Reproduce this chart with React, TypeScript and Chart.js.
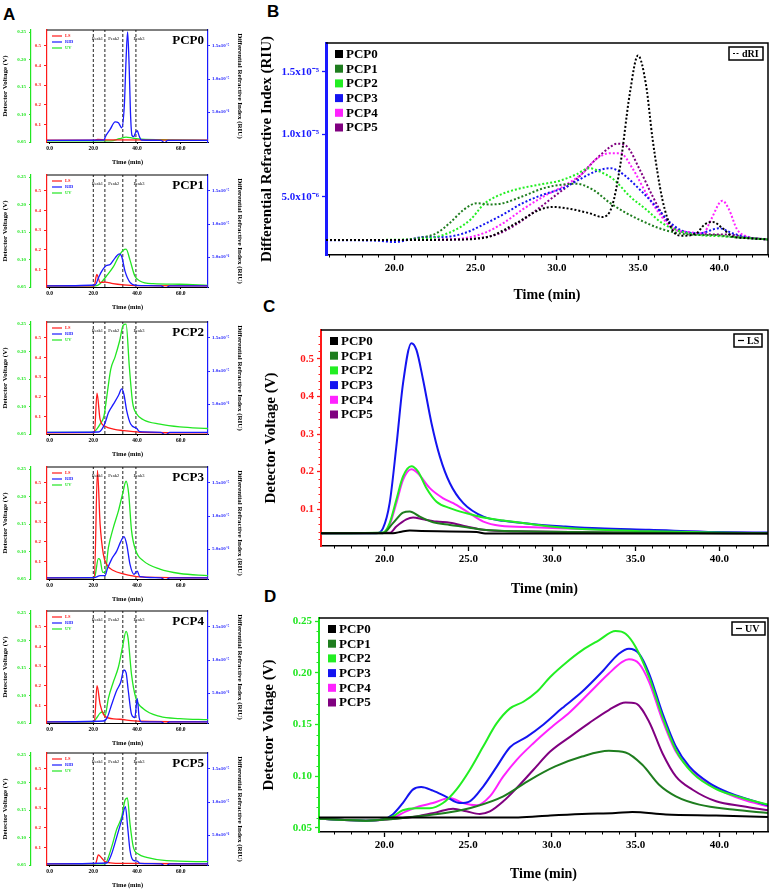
import React, { useEffect, useRef } from 'react';
import { Chart, registerables } from 'chart.js';
Chart.register(...registerables);

type Pt = [number, number];

const SERIF = '"Liberation Serif", "Times New Roman", serif';
const SANS = '"Liberation Sans", Arial, sans-serif';

const SAMPLES = ['PCP0', 'PCP1', 'PCP2', 'PCP3', 'PCP4', 'PCP5'];
const SAMPLE_COLORS = ['#000000', '#1e7d1e', '#22ee22', '#1414f0', '#ff22ff', '#800080'];
const RED = '#ff1a1a';
const BLUE = '#1a1aff';
const GREEN = '#22e622';

// ---------- Panel B : dRI (in 10^-6 RIU) ----------
const dri_PCP0: Pt[] = [[15.8,1.55],[20,1.55],[24,1.6],[25,1.65],[25.9,1.85],[27.5,2.9],[29,4.0],[29.8,4.2],[30.8,4.05],[32,3.7],[32.8,3.4],[33.4,4.25],[33.9,7.45],[34.5,13.3],[35,16.3],[35.5,13.9],[35.9,9.6],[36.5,4.8],[37.1,2.4],[37.7,1.9],[38.6,2.1],[39.1,2.8],[39.6,3.0],[40.2,2.5],[40.8,1.85],[41.8,1.7],[43,1.6]];
const dri_PCP1: Pt[] = [[15.8,1.55],[20,1.55],[21.4,1.7],[22.6,2.1],[23.4,2.9],[24.3,4.0],[25.1,4.5],[25.9,4.4],[26.7,4.5],[27.9,5.05],[29.2,5.7],[30.4,6.0],[31.2,6.05],[32.2,5.6],[33.3,4.5],[34.3,3.7],[35.3,3.05],[36.3,2.5],[37.5,2.1],[38.8,1.95],[39.8,1.95],[40.8,1.8],[43,1.6]];
const dri_PCP2: Pt[] = [[15.8,1.55],[21,1.6],[22.6,1.8],[23.8,2.4],[24.7,3.2],[25.5,4.4],[26.3,5.05],[27.5,5.6],[29,6.0],[30.2,6.3],[31.2,6.8],[32,7.3],[32.6,7.05],[33.5,6.4],[34.5,5.05],[35.5,4.0],[36.5,2.9],[37.5,2.3],[38.8,1.95],[40.2,1.85],[43,1.6]];
const dri_PCP3: Pt[] = [[15.8,1.55],[19,1.5],[20,1.4],[21,1.6],[21.8,1.8],[23,1.8],[24.3,2.1],[25.5,2.8],[26.7,3.6],[27.9,4.5],[29.2,5.2],[30.4,5.7],[31.4,6.4],[32.4,7.05],[33.3,7.3],[34.1,6.8],[35.1,5.6],[36.1,4.25],[36.9,3.05],[37.7,2.3],[38.8,2.1],[40.0,2.5],[40.8,2.1],[41.8,1.75],[43,1.6]];
const dri_PCP4: Pt[] = [[15.8,1.55],[23,1.6],[24.3,1.7],[25.5,2.1],[26.7,2.9],[27.9,4.0],[29.2,5.05],[30.4,5.85],[31.6,6.9],[32.4,8.0],[33.3,8.5],[33.9,8.5],[34.7,7.2],[35.5,5.3],[36.3,3.7],[37.1,2.5],[38.1,2.2],[39.0,2.1],[39.5,3.2],[40.0,4.5],[40.2,4.7],[40.6,4.0],[41.1,2.4],[41.8,1.8],[43,1.6]];
const dri_PCP5: Pt[] = [[15.8,1.55],[24,1.6],[25.1,1.7],[26.3,2.0],[27.5,2.8],[28.8,4.0],[30,5.2],[31.2,6.4],[32.4,8.0],[33.3,9.0],[33.7,9.25],[34.3,9.05],[35.1,7.2],[35.9,5.05],[36.7,3.2],[37.5,2.3],[38.8,2.05],[39.8,2.0],[40.6,2.0],[41.5,1.8],[43,1.6]];

// ---------- Panel C : LS detector voltage (V) ----------
const ls_PCP0: Pt[] = [[16.2,0.036],[20.5,0.036],[21,0.04],[21.5,0.043],[22.2,0.042],[25.5,0.039],[26,0.035],[43,0.035]];
const ls_PCP1: Pt[] = [[16.2,0.036],[19.9,0.036],[20.5,0.063],[21.1,0.091],[21.5,0.094],[22.1,0.08],[22.9,0.065],[23.9,0.058],[24.9,0.052],[25.9,0.045],[27.9,0.041],[43,0.036]];
const ls_PCP2: Pt[] = [[16.2,0.036],[19.9,0.038],[20.3,0.063],[20.7,0.125],[21.1,0.187],[21.6,0.214],[22,0.2],[22.5,0.156],[23.1,0.12],[23.9,0.103],[24.9,0.089],[25.9,0.078],[27.9,0.065],[29.9,0.054],[31.8,0.047],[35.8,0.041],[43,0.036]];
const ls_PCP3: Pt[] = [[16.2,0.036],[19.5,0.036],[19.9,0.049],[20.3,0.116],[20.7,0.267],[21.1,0.435],[21.6,0.542],[21.9,0.524],[22.3,0.444],[22.8,0.329],[23.3,0.24],[23.9,0.169],[24.7,0.116],[25.9,0.08],[27.1,0.069],[28.9,0.06],[30.8,0.054],[32.8,0.049],[35.8,0.045],[39.8,0.039],[43,0.038]];
const ls_PCP4: Pt[] = [[16.2,0.036],[19.9,0.037],[20.3,0.058],[20.7,0.116],[21.1,0.178],[21.6,0.206],[22,0.195],[22.7,0.156],[23.5,0.129],[24.1,0.116],[24.9,0.094],[25.9,0.067],[26.9,0.056],[28.9,0.052],[31.8,0.047],[43,0.036]];
const ls_PCP5: Pt[] = [[16.2,0.036],[20.3,0.037],[20.7,0.054],[21.3,0.073],[21.7,0.078],[22.3,0.073],[23.1,0.067],[23.9,0.064],[24.9,0.054],[25.9,0.045],[27.9,0.041],[43,0.036]];

// ---------- Panel D : UV detector voltage (V) ----------
const uv_PCP0: Pt[] = [[16.1,0.06],[28,0.06],[29.9,0.062],[31.8,0.0635],[33.8,0.0644],[34.8,0.0654],[36.8,0.063],[39.8,0.062],[42.9,0.0606]];
const uv_PCP1: Pt[] = [[16.1,0.0587],[18.9,0.057],[20.5,0.0585],[21.9,0.061],[23.9,0.065],[25.5,0.0709],[27.1,0.0805],[28.7,0.0965],[30.2,0.1094],[31.8,0.119],[33.4,0.1245],[34.4,0.1229],[35.4,0.111],[36.4,0.0917],[37.4,0.0805],[38.8,0.0725],[40.8,0.0677],[42.9,0.0644]];
const uv_PCP2: Pt[] = [[16.1,0.0587],[18.9,0.057],[19.9,0.058],[20.5,0.061],[21.1,0.067],[21.9,0.069],[22.7,0.069],[23.5,0.074],[24.3,0.087],[25.1,0.106],[25.9,0.1287],[26.7,0.151],[27.5,0.1656],[28.3,0.172],[29.1,0.1816],[29.9,0.196],[30.9,0.2105],[31.8,0.2217],[32.8,0.2314],[33.8,0.2404],[34.4,0.2378],[35,0.225],[35.8,0.196],[36.6,0.1575],[37.4,0.1254],[38.4,0.103],[39.8,0.0876],[41.4,0.0789],[42.9,0.0725]];
const uv_PCP3: Pt[] = [[16.1,0.0587],[18.9,0.057],[19.9,0.058],[20.5,0.063],[21.1,0.074],[21.7,0.087],[22.2,0.0895],[22.9,0.086],[23.7,0.08],[24.5,0.074],[25.1,0.0757],[25.9,0.09],[26.7,0.109],[27.5,0.128],[28.5,0.138],[29.5,0.15],[30.6,0.1656],[31.8,0.1816],[33.0,0.201],[34.0,0.2185],[34.6,0.2233],[35.2,0.2185],[35.8,0.1993],[36.6,0.161],[37.4,0.1287],[38.2,0.1094],[39.4,0.0933],[40.6,0.0837],[41.8,0.0773],[42.9,0.0718]];
const uv_PCP4: Pt[] = [[16.1,0.0587],[18.9,0.057],[20.5,0.0596],[21.3,0.066],[22.1,0.0709],[22.9,0.074],[23.9,0.0789],[24.7,0.074],[25.5,0.0718],[26.3,0.0805],[27.1,0.0998],[27.9,0.1158],[28.9,0.1319],[29.9,0.1463],[31.1,0.1624],[32.2,0.18],[33.4,0.1993],[34.2,0.2105],[34.6,0.213],[35.2,0.2089],[35.8,0.1913],[36.6,0.1543],[37.4,0.1238],[38.4,0.1046],[39.8,0.0885],[41.4,0.0773],[42.9,0.0709]];
const uv_PCP5: Pt[] = [[16.1,0.0587],[18.9,0.057],[20.5,0.0587],[21.9,0.061],[23.1,0.065],[24.1,0.0686],[24.9,0.066],[25.7,0.0635],[26.3,0.066],[27.1,0.0757],[27.9,0.0885],[28.9,0.1062],[29.9,0.1238],[31.1,0.1383],[32.2,0.1511],[33.4,0.164],[34.4,0.1713],[35,0.1704],[35.8,0.1527],[36.6,0.1222],[37.4,0.0998],[38.4,0.0869],[39.8,0.0757],[41.4,0.0709],[42.9,0.067]];

// ---------- Panel A : per-sample triple detector traces (0-72 min) ----------
const a_ls_PCP0: Pt[] = [[-1.2,0.02],[20,0.02],[22,0.024],[26,0.022],[72.5,0.02]];
const a_rid_PCP0: Pt[] = [[-1.2,0.75],[25,0.8],[25.4,1.2],[27.7,2.4],[30,3.55],[31.5,3.4],[33,2.65],[34.2,6],[35,13],[35.7,17.1],[36.4,12],[37,5],[37.7,1.5],[38.5,1.3],[39.3,1.9],[40.1,2.2],[41,1.4],[42,0.8],[51,0.75],[52.7,0.35],[54,0.75],[72.5,0.75]];
const a_uv_PCP0: Pt[] = [[-1.2,0.052],[28,0.052],[32,0.056],[35,0.059],[38,0.057],[42,0.055],[55,0.054],[72.5,0.053]];

const a_ls_PCP1: Pt[] = [[-1.2,0.017],[20.4,0.017],[21.6,0.075],[23.1,0.034],[25.4,0.036],[29,0.028],[33.7,0.022],[40,0.018],[72.5,0.017]];
const a_rid_PCP1: Pt[] = [[-1.2,0.67],[20.8,0.8],[22.5,2.0],[23.9,2.9],[25.8,3.7],[27.7,3.9],[30,4.9],[31.9,5.5],[33,5.1],[34.5,2.9],[36.8,1.2],[39.8,0.75],[51,0.67],[53,0.3],[55,0.67],[72.5,0.67]];
const a_uv_PCP1: Pt[] = [[-1.2,0.052],[21,0.052],[23.1,0.056],[26,0.07],[29.2,0.087],[31.5,0.105],[33.7,0.117],[35,0.119],[36.8,0.099],[39,0.07],[41.3,0.061],[47.4,0.056],[59.6,0.055],[72.5,0.053]];

const a_ls_PCP2: Pt[] = [[-1.2,0.017],[20.5,0.018],[21.7,0.218],[23.1,0.085],[25.4,0.05],[29.2,0.036],[33.7,0.028],[41.3,0.02],[72.5,0.017]];
const a_rid_PCP2: Pt[] = [[-1.2,0.75],[22.5,0.8],[23.9,1.2],[25.4,2.2],[26.9,3.7],[29.2,5.0],[31.5,6.3],[33,7.3],[34,6.5],[35.3,4.0],[37.1,2.0],[39.8,1.35],[41.3,0.85],[51,0.75],[53,0.35],[55,0.75],[72.5,0.75]];
const a_uv_PCP2: Pt[] = [[-1.2,0.053],[20,0.053],[21.6,0.059],[23.1,0.068],[24.9,0.083],[26.4,0.125],[28,0.168],[30,0.191],[32,0.219],[33.7,0.248],[35,0.25],[36.5,0.172],[38,0.107],[39.8,0.087],[42.9,0.076],[50.5,0.068],[59.6,0.063],[72.5,0.06]];

const a_ls_PCP3: Pt[] = [[-1.2,0.017],[20.5,0.018],[21.9,0.562],[23.1,0.29],[24.6,0.136],[26.1,0.085],[29.2,0.054],[33.7,0.037],[41.3,0.022],[72.5,0.017]];
const a_rid_PCP3: Pt[] = [[-1.2,0.67],[20.5,0.7],[23.1,1.0],[25.4,1.0],[26.4,2.0],[28.4,3.5],[30.7,4.7],[32.5,6.1],[34,6.9],[35.3,5.7],[36.8,2.7],[38.6,1.2],[40.1,1.7],[41.3,0.85],[51,0.67],[53,0.3],[55,0.67],[72.5,0.67]];
const a_uv_PCP3: Pt[] = [[-1.2,0.052],[20,0.052],[20.8,0.056],[22.3,0.087],[23.1,0.085],[24.3,0.062],[25.4,0.062],[26.9,0.107],[29.2,0.144],[31.5,0.174],[33.4,0.205],[35,0.228],[36.2,0.205],[37.5,0.138],[39.5,0.101],[42.9,0.083],[50.5,0.068],[59.6,0.06],[72.5,0.056]];

const a_ls_PCP4: Pt[] = [[-1.2,0.017],[20.5,0.018],[21.7,0.2],[23.1,0.107],[24.6,0.056],[26.1,0.04],[32.2,0.03],[41.3,0.02],[72.5,0.017]];
const a_rid_PCP4: Pt[] = [[-1.2,0.67],[24.6,0.8],[26.4,1.35],[28.4,3.3],[30.7,5.4],[32.5,6.6],[34,8.5],[35,8.1],[36,5.4],[37.5,1.8],[39,1.3],[40.1,4.2],[41,1.3],[42.1,0.67],[51,0.67],[53,0.3],[55,0.67],[72.5,0.67]];
const a_uv_PCP4: Pt[] = [[-1.2,0.052],[20,0.052],[21.3,0.058],[23.1,0.068],[24.2,0.07],[25.4,0.064],[26.9,0.095],[29.2,0.125],[31.5,0.152],[33.4,0.189],[35,0.217],[35.9,0.205],[37.5,0.138],[39.5,0.095],[42.9,0.076],[50.5,0.062],[59.6,0.058],[72.5,0.056]];

const a_ls_PCP5: Pt[] = [[-1.2,0.017],[21,0.018],[22.3,0.062],[23.9,0.045],[25.4,0.028],[27.7,0.022],[35,0.019],[72.5,0.017]];
const a_rid_PCP5: Pt[] = [[-1.2,0.67],[26.1,0.8],[28.4,2.2],[30.7,4.7],[33,7.3],[34.7,9.3],[35.7,6.3],[36.8,2.7],[38.3,1.2],[40.1,1.1],[41.3,0.75],[51,0.67],[53,0.3],[55,0.67],[72.5,0.67]];
const a_uv_PCP5: Pt[] = [[-1.2,0.052],[25,0.052],[26.1,0.056],[28.4,0.083],[30.7,0.115],[33,0.138],[34.5,0.168],[35.6,0.172],[36.8,0.125],[38.3,0.083],[40.6,0.07],[44.4,0.064],[53.5,0.058],[72.5,0.056]];

const A_LS = [a_ls_PCP0, a_ls_PCP1, a_ls_PCP2, a_ls_PCP3, a_ls_PCP4, a_ls_PCP5];
const A_RID = [a_rid_PCP0, a_rid_PCP1, a_rid_PCP2, a_rid_PCP3, a_rid_PCP4, a_rid_PCP5];
const A_UV = [a_uv_PCP0, a_uv_PCP1, a_uv_PCP2, a_uv_PCP3, a_uv_PCP4, a_uv_PCP5];

const PEAK_BOUNDS = [20.0, 25.3, 33.5, 39.5];
const PEAK_LABELS: [string, number][] = [['Peak1', 21.9], ['Peak2', 29.4], ['Peak3', 40.9]];
const A_LS_RANGE = [0.011, 0.579];
const A_UV_RANGE = [0.05, 0.254];
const A_RID_RANGE = [0.5, 17.4];
const A_X_RANGE = [-1.2, 72.5];

// ---------- helpers ----------
const toXY = (a: Pt[]) => a.map(([x, y]) => ({ x, y }));
const near = (v: number, step: number) => Math.abs(v / step - Math.round(v / step)) < 1e-6;
const driLabel = (v: number) => (v < 9.99 ? `${v.toFixed(1)}x10⁻⁶` : `${(v / 10).toFixed(1)}x10⁻⁵`);
const bold = (size: number, family = SERIF) => ({ family, size, weight: 'bold' as const });

function ChartCanvas({ left, top, width, height, make }: any) {
  const ref = useRef<HTMLCanvasElement>(null);
  useEffect(() => {
    const chart = new Chart(ref.current as HTMLCanvasElement, make());
    return () => chart.destroy();
  }, []);
  return (
    <canvas
      ref={ref}
      width={width}
      height={height}
      style={{ position: 'absolute', left, top, width, height }}
    />
  );
}

// ---------- big panels (B, C, D) ----------
function bigConfig(p: any) {
  const framePlugin = {
    id: 'frame' + p.tag,
    afterDraw(chart: any) {
      const { ctx, chartArea: a, scales } = chart;
      ctx.save();
      // minor ticks (x every 1 min, y every p.yMinor)
      ctx.lineWidth = 1;
      ctx.strokeStyle = '#000';
      ctx.beginPath();
      for (let t = Math.ceil(p.xMin); t <= p.xMax; t += 1) {
        if (t % 5 === 0) continue;
        const x = Math.round(scales.x.getPixelForValue(t)) + 0.5;
        ctx.moveTo(x, a.bottom);
        ctx.lineTo(x, a.bottom + 2.5);
      }
      ctx.stroke();
      if (p.yMinor) {
        ctx.strokeStyle = p.yColor;
        ctx.beginPath();
        const n0 = Math.ceil(p.yMin / p.yMinor - 1e-6);
        for (let k = n0; k * p.yMinor <= p.yMax; k++) {
          const v = k * p.yMinor;
          if (near(v, p.yStep)) continue;
          const y = Math.round(scales.y.getPixelForValue(v)) + 0.5;
          ctx.moveTo(a.left, y);
          ctx.lineTo(a.left - 2.5, y);
        }
        ctx.stroke();
      }
      // top and right frame
      ctx.strokeStyle = '#000';
      ctx.lineWidth = 1.5;
      ctx.beginPath();
      ctx.moveTo(a.left, a.top);
      ctx.lineTo(a.right, a.top);
      ctx.lineTo(a.right, a.bottom);
      ctx.stroke();
      // legend
      ctx.font = `bold 13px ${SERIF}`;
      ctx.textBaseline = 'middle';
      ctx.textAlign = 'left';
      SAMPLES.forEach((n, i) => {
        const y = a.top + 11 + i * 14.7;
        ctx.fillStyle = SAMPLE_COLORS[i];
        ctx.fillRect(a.left + 9, y - 4, 8, 8);
        ctx.fillStyle = '#000';
        ctx.fillText(n, a.left + 20, y + 0.5);
      });
      // tag box
      const bw = p.tagW;
      const bx = a.right - p.tagRight - bw;
      const by = a.top + 4;
      ctx.lineWidth = 1.5;
      ctx.strokeRect(bx, by, bw, 13);
      ctx.lineWidth = 1.2;
      if (p.dash) ctx.setLineDash([2, 1.5]);
      ctx.beginPath();
      ctx.moveTo(bx + 4, by + 6.5);
      ctx.lineTo(bx + 10, by + 6.5);
      ctx.stroke();
      ctx.setLineDash([]);
      ctx.font = `bold 10px ${SERIF}`;
      ctx.fillStyle = '#000';
      ctx.fillText(p.tag, bx + 13, by + 7);
      ctx.restore();
    },
  };
  return {
    type: 'line',
    data: {
      datasets: p.series.map((s: Pt[], i: number) => ({
        label: SAMPLES[i],
        data: toXY(s),
        borderColor: SAMPLE_COLORS[i],
        borderWidth: p.lineWidth,
        borderDash: p.dash ? [2, 2] : [],
        pointRadius: 0,
        cubicInterpolationMode: 'monotone',
        fill: false,
      })),
    },
    options: {
      animation: false,
      responsive: false,
      events: [],
      layout: { padding: { left: p.padL, top: p.padT, right: p.padR, bottom: 0 } },
      plugins: { legend: { display: false }, tooltip: { enabled: false } },
      scales: {
        x: {
          type: 'linear',
          min: p.xMin,
          max: p.xMax,
          afterFit: (s: any) => { s.height = p.xH; },
          ticks: {
            stepSize: 5,
            autoSkip: false,
            includeBounds: false,
            maxRotation: 0,
            padding: 2,
            color: '#000',
            font: bold(11),
            callback: (v: any) => Number(v).toFixed(1),
          },
          grid: { drawOnChartArea: false, tickLength: 5, color: '#000', tickWidth: 1.3 },
          border: { color: '#000', width: 1.5 },
          title: { display: true, text: 'Time (min)', color: '#000', font: bold(14), padding: { top: 0, bottom: 4 } },
        },
        y: {
          type: 'linear',
          min: p.yMin,
          max: p.yMax,
          afterFit: (s: any) => { s.width = p.yW; },
          ticks: {
            stepSize: p.yStep,
            autoSkip: false,
            includeBounds: false,
            padding: 3,
            color: p.yColor,
            font: bold(11),
            callback: p.yLabel,
          },
          grid: { drawOnChartArea: false, tickLength: 4, color: p.yColor, tickWidth: 1.3 },
          border: { color: p.yColor, width: p.yBorderW },
          title: { display: true, text: p.yTitle, color: '#000', font: bold(15), padding: { top: 4, bottom: 0 } },
        },
      },
    },
    plugins: [framePlugin],
  };
}

const makeB = () =>
  bigConfig({
    series: [dri_PCP0, dri_PCP1, dri_PCP2, dri_PCP3, dri_PCP4, dri_PCP5],
    tag: 'dRI', tagW: 34, tagRight: 5, dash: true, lineWidth: 2,
    padL: 4, padT: 18, padR: 11, yW: 72, xH: 53,
    xMin: 15.8, xMax: 43.0,
    yMin: 0.36, yMax: 17.3, yStep: 5, yMinor: 0, yColor: BLUE, yBorderW: 3,
    yLabel: (v: any) => driLabel(Number(v)),
    yTitle: 'Differential Refractive Index (RIU)',
  });

const makeC = () =>
  bigConfig({
    series: [ls_PCP0, ls_PCP1, ls_PCP2, ls_PCP3, ls_PCP4, ls_PCP5],
    tag: 'LS', tagW: 28, tagRight: 6, dash: false, lineWidth: 2,
    padL: 8, padT: 25, padR: 11, yW: 63, xH: 56,
    xMin: 16.2, xMax: 42.9,
    yMin: 0.002, yMax: 0.577, yStep: 0.1, yMinor: 0.02, yColor: RED, yBorderW: 2,
    yLabel: (v: any) => Number(v).toFixed(1),
    yTitle: 'Detector Voltage (V)',
  });

const makeD = () =>
  bigConfig({
    series: [uv_PCP0, uv_PCP1, uv_PCP2, uv_PCP3, uv_PCP4, uv_PCP5],
    tag: 'UV', tagW: 33, tagRight: 3, dash: false, lineWidth: 2,
    padL: 6, padT: 18, padR: 11, yW: 63, xH: 55,
    xMin: 16.1, xMax: 42.9,
    yMin: 0.046, yMax: 0.253, yStep: 0.05, yMinor: 0.01, yColor: GREEN, yBorderW: 2,
    yLabel: (v: any) => Number(v).toFixed(2),
    yTitle: 'Detector Voltage (V)',
  });

// ---------- small panels (A) ----------
function smallConfig(i: number) {
  const line = (data: Pt[], axis: string, color: string, label: string) => ({
    label,
    data: toXY(data),
    yAxisID: axis,
    borderColor: color,
    borderWidth: 1.3,
    pointRadius: 0,
    cubicInterpolationMode: 'monotone',
    fill: false,
  });
  const peakLines = PEAK_BOUNDS.map((t) => ({
    label: 'bound',
    data: [{ x: t, y: A_LS_RANGE[0] }, { x: t, y: A_LS_RANGE[1] }],
    yAxisID: 'yLS',
    borderColor: '#222',
    borderWidth: 1,
    borderDash: [3, 2],
    pointRadius: 0,
    fill: false,
  }));
  const deco = {
    id: 'deco' + i,
    afterDraw(chart: any) {
      const { ctx, chartArea: a, scales } = chart;
      ctx.save();
      ctx.strokeStyle = '#000';
      ctx.lineWidth = 1;
      ctx.beginPath();
      ctx.moveTo(a.left, a.top);
      ctx.lineTo(a.right, a.top);
      ctx.stroke();
      ctx.fillStyle = '#000';
      ctx.font = `bold 13px ${SERIF}`;
      ctx.textAlign = 'right';
      ctx.textBaseline = 'middle';
      ctx.fillText(SAMPLES[i], a.right - 4, a.top + 11);
      ctx.font = `4.5px ${SERIF}`;
      ctx.textAlign = 'center';
      PEAK_LABELS.forEach(([txt, t]) => {
        ctx.fillText(txt, scales.x.getPixelForValue(t), a.top + 9);
      });
      const leg: [string, string][] = [['LS', RED], ['RID', BLUE], ['UV', GREEN]];
      ctx.textAlign = 'left';
      ctx.font = `bold 4.5px ${SERIF}`;
      leg.forEach(([txt, c], j) => {
        const y = a.top + 6 + j * 6;
        ctx.strokeStyle = c;
        ctx.lineWidth = 1.2;
        ctx.beginPath();
        ctx.moveTo(a.left + 5, y);
        ctx.lineTo(a.left + 15, y);
        ctx.stroke();
        ctx.fillStyle = c;
        ctx.fillText(txt, a.left + 18, y);
      });
      ctx.restore();
    },
  };
  const tickFont = bold(5);
  return {
    type: 'line',
    data: {
      datasets: [
        line(A_RID[i], 'yRID', BLUE, 'RID'),
        line(A_LS[i], 'yLS', RED, 'LS'),
        line(A_UV[i], 'yUV', GREEN, 'UV'),
        ...peakLines,
      ],
    },
    options: {
      animation: false,
      responsive: false,
      events: [],
      layout: { padding: { left: 0, top: 8, right: 5, bottom: 0 } },
      plugins: { legend: { display: false }, tooltip: { enabled: false } },
      scales: {
        x: {
          type: 'linear',
          min: A_X_RANGE[0],
          max: A_X_RANGE[1],
          afterFit: (s: any) => { s.height = 24; },
          ticks: { stepSize: 20, autoSkip: false, includeBounds: false, maxRotation: 0, padding: 1, color: '#000', font: bold(5.5), callback: (v: any) => Number(v).toFixed(1) },
          grid: { drawOnChartArea: false, tickLength: 2, color: '#000' },
          border: { color: '#000', width: 1 },
          title: { display: true, text: 'Time (min)', color: '#000', font: bold(6.5), padding: { top: 0, bottom: 0 } },
        },
        yLS: {
          type: 'linear',
          position: 'left',
          weight: 0,
          min: A_LS_RANGE[0],
          max: A_LS_RANGE[1],
          afterFit: (s: any) => { s.width = 16; },
          ticks: { stepSize: 0.1, autoSkip: false, includeBounds: false, padding: 3, color: RED, font: tickFont, callback: (v: any) => Number(v).toFixed(1) },
          grid: { drawOnChartArea: false, tickLength: 3, color: RED },
          border: { color: RED, width: 1.2 },
        },
        yUV: {
          type: 'linear',
          position: 'left',
          weight: 1,
          min: A_UV_RANGE[0],
          max: A_UV_RANGE[1],
          afterFit: (s: any) => { s.width = 31; },
          ticks: { stepSize: 0.05, autoSkip: false, includeBounds: false, padding: 3, color: GREEN, font: tickFont, callback: (v: any) => Number(v).toFixed(2) },
          grid: { drawOnChartArea: false, tickLength: 2, color: GREEN },
          border: { color: GREEN, width: 1.2 },
          title: { display: true, text: 'Detector Voltage (V)', color: '#000', font: bold(7), padding: { top: 1, bottom: 0 } },
        },
        yRID: {
          type: 'linear',
          position: 'right',
          min: A_RID_RANGE[0],
          max: A_RID_RANGE[1],
          afterFit: (s: any) => { s.width = 37; },
          ticks: { stepSize: 5, autoSkip: false, includeBounds: false, padding: 2, color: BLUE, font: tickFont, callback: (v: any) => driLabel(Number(v)) },
          grid: { drawOnChartArea: false, tickLength: 2, color: BLUE },
          border: { color: BLUE, width: 1.2 },
          title: { display: true, text: 'Differential Refractive Index (RIU)', color: '#000', font: bold(7), padding: { top: 1, bottom: 0 } },
        },
      },
    },
    plugins: [deco],
  };
}

const SMALL_TOPS = [30, 175, 322, 467, 611, 753];

const letter = (t: string, left: number, top: number) => (
  <div style={{ position: 'absolute', left, top, font: `bold 17px ${SANS}`, lineHeight: '17px', color: '#000' }}>{t}</div>
);

export default function App() {
  return (
    <div style={{ position: 'absolute', left: 0, top: 0, width: 779, height: 893, background: '#fff', overflow: 'hidden' }}>
      {letter('A', 3, 6)}
      {letter('B', 267, 3)}
      {letter('C', 263, 298)}
      {letter('D', 264, 588)}
      {SMALL_TOPS.map((t, i) => (
        <ChartCanvas key={i} left={0} top={t - 8} width={250} height={144} make={() => smallConfig(i)} />
      ))}
      <ChartCanvas left={250} top={25} width={529} height={283} make={makeB} />
      <ChartCanvas left={250} top={305} width={529} height={297} make={makeC} />
      <ChartCanvas left={250} top={600} width={529} height={287} make={makeD} />
    </div>
  );
}
